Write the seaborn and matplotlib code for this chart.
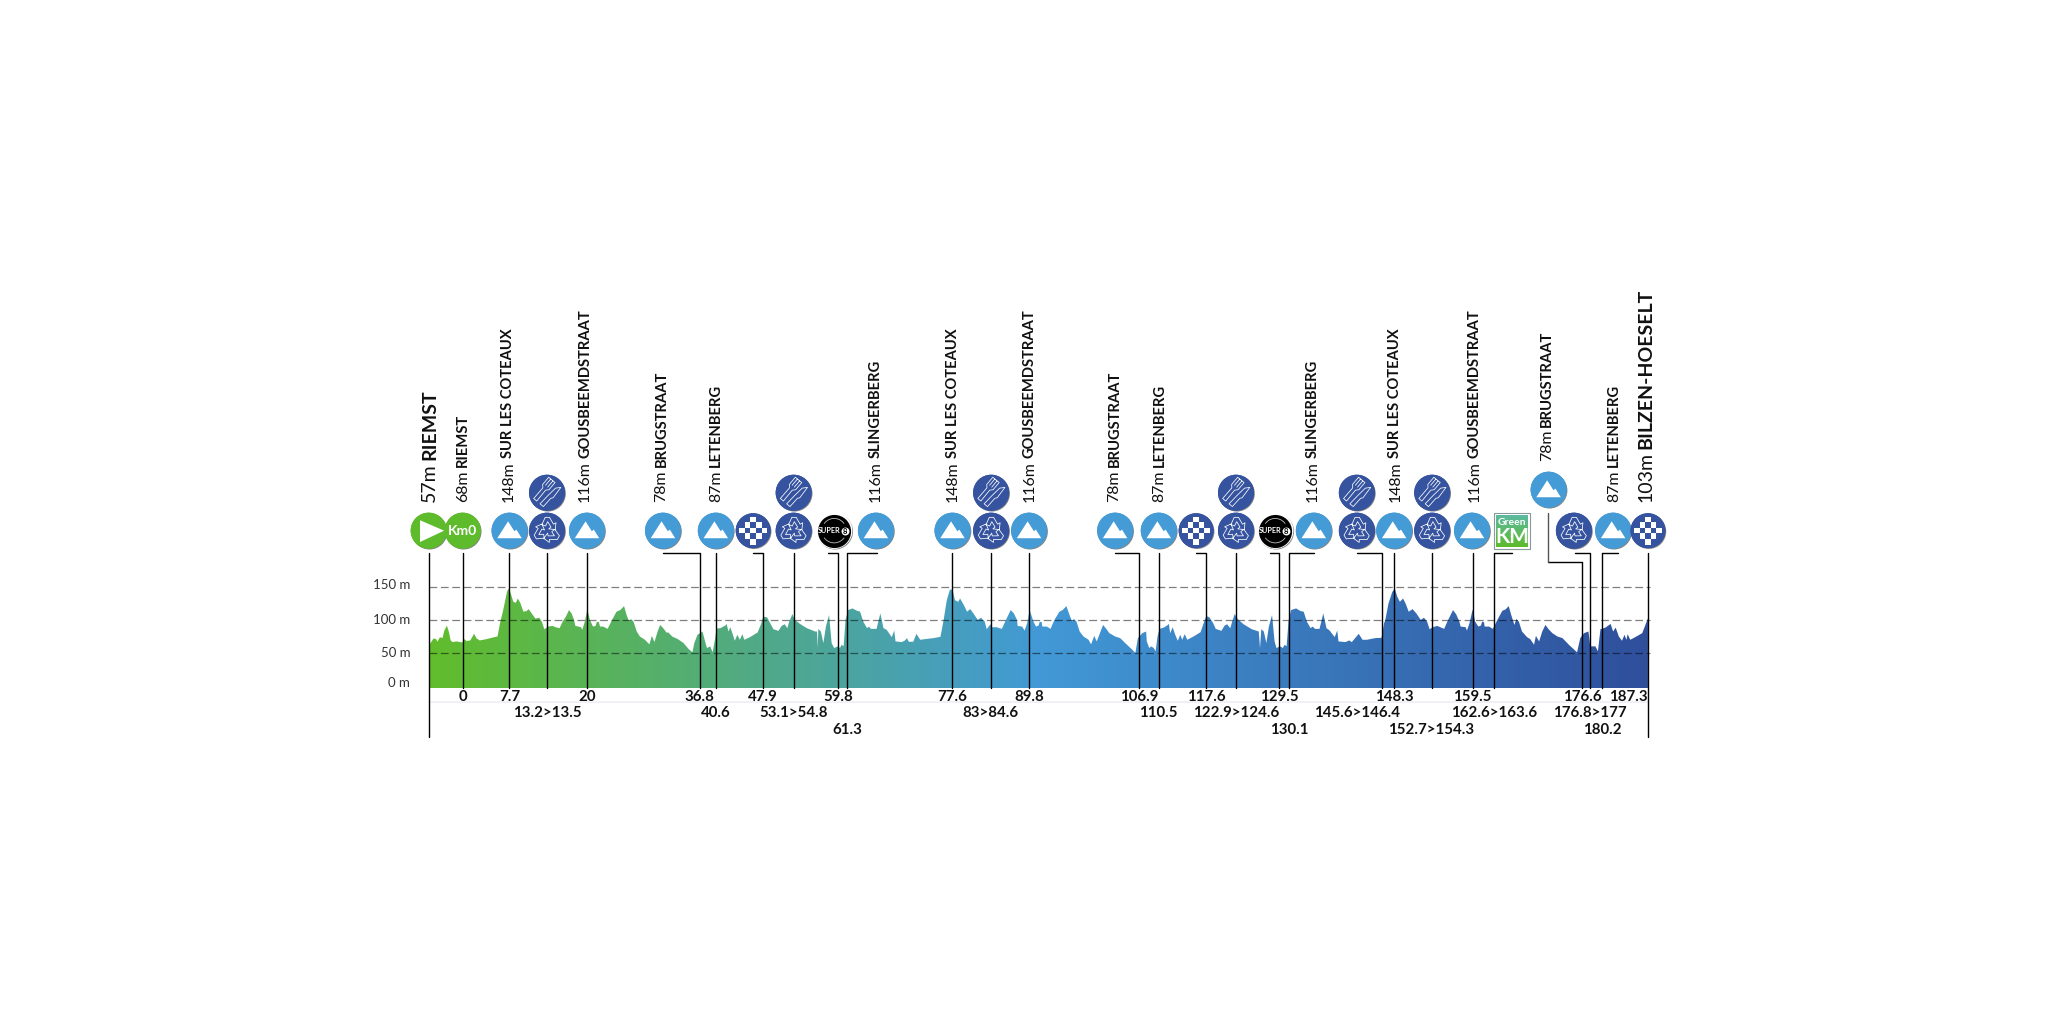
import numpy as np
import pandas as pd
import matplotlib
matplotlib.use("Agg")
import matplotlib.pyplot as plt
import seaborn as sns
from matplotlib.colors import LinearSegmentedColormap
from matplotlib.path import Path
from matplotlib.transforms import Affine2D
from matplotlib import patheffects as pe

# elevation profile, km from the official start and metres
profile_km = [
    -5.4, -5.1, -4.6, -4.2, -4.0, -3.6, -3.2, -2.9, -2.5, -2.2, -1.9, -1.6, -1.0, -0.1, 0.3, 0.6,
    1.2, 1.8, 2.2, 2.7, 3.8, 4.8, 5.5, 5.9, 6.4, 7.0, 7.2, 7.6, 8.0, 8.4, 8.7, 9.1, 9.6, 10.1,
    10.4, 10.9, 11.5, 12.1, 12.5, 12.9, 13.5, 14.2, 14.7, 15.3, 15.8, 16.3, 16.8, 17.2, 17.6, 17.8,
    18.3, 18.7, 18.9, 19.3, 19.7, 20.1, 20.6, 21.0, 21.2, 21.5, 21.7, 22.2, 22.9, 23.6, 24.3, 24.9,
    25.5, 25.9, 26.3, 26.6, 27.0, 27.5, 28.0, 28.8, 29.5, 29.9, 30.3, 30.8, 31.2, 31.7, 32.2,
    32.5, 33.1, 34.0, 34.9, 35.7, 36.3, 36.6, 37.1, 37.9, 38.3, 38.6, 39.1, 39.5, 39.9, 40.1, 40.7,
    41.5, 41.7, 42.0, 42.3, 42.7, 43.0, 43.4, 43.8, 44.2, 44.5, 45.4, 46.6, 47.1, 47.5, 48.1, 48.6,
    49.1, 49.9, 50.4, 50.9, 51.3, 51.6, 52.1, 52.5, 53.3, 54.4, 55.7, 56.0, 56.1, 56.2, 56.6, 57.0,
    57.4, 57.9, 58.3, 58.7, 59.3, 59.6, 59.9, 60.2, 60.5, 60.9, 61.6, 62.3, 62.8, 63.3, 63.9, 64.2,
    64.5, 65.4, 66.0, 66.5, 67.0, 67.8, 68.2, 68.4, 69.4, 69.9, 70.2, 70.5, 71.2, 71.7, 72.3, 73.1,
    74.4, 75.5, 76.0, 76.5, 77.0, 77.4, 77.8, 78.3, 78.6, 79.2, 79.7, 80.2, 80.7, 81.4, 81.9, 82.5,
    82.8, 83.4, 83.7, 84.4, 85.2, 85.8, 86.6, 87.1, 87.6, 87.7, 88.4, 88.8, 89.2, 89.6, 90.2, 90.6,
    91.0, 91.2, 91.5, 91.6, 92.3, 92.9, 93.5, 94.3, 94.8, 95.4, 95.9, 96.3, 96.6, 97.0, 97.5, 98.1,
    98.9, 99.3, 99.8, 100.2, 100.8, 101.2, 101.7, 102.2, 103.1, 103.9, 104.7, 105.8, 106.3, 106.7,
    107.4, 108.0, 108.1, 108.5, 108.8, 109.2, 109.5, 109.8, 110.1, 110.8, 111.3, 111.6, 111.8, 112.2,
    112.6, 113.0, 113.4, 113.7, 114.1, 114.5, 115.5, 116.6, 117.0, 117.5, 118.0, 118.6, 119.0, 119.9,
    120.4, 120.8, 121.3, 121.6, 122.0, 122.5, 123.4, 124.7, 125.8, 126.0, 126.2, 126.6, 127.0, 127.4,
    127.9, 128.3, 128.6, 129.2, 129.6, 129.9, 130.2, 130.5, 130.9, 131.7, 132.4, 132.9, 133.4, 134.0,
    134.3, 134.7, 135.4, 136.0, 136.5, 137.0, 137.8, 138.2, 138.4, 139.5, 140.1, 140.5, 141.6, 142.2,
    142.9, 144.2, 145.2, 145.6, 145.8, 146.3, 146.9, 147.3, 147.7, 148.1, 148.6, 149.0, 149.5, 150.1,
    150.7, 151.4, 151.9, 152.4, 152.8, 153.3, 154.0, 154.5, 155.1, 155.6, 156.5, 157.0, 157.5, 157.7,
    158.5, 158.7, 159.1, 159.6, 160.0, 160.5, 160.9, 161.1, 161.4, 161.5, 162.2, 162.8, 163.5, 164.3,
    164.8, 165.3, 165.7, 166.2, 166.5, 166.9, 167.4, 168.2, 168.7, 169.3, 169.6, 170.1, 170.6, 171.1,
    171.6, 172.2, 173.0, 173.8, 174.8, 176.1, 176.6, 177.2, 177.9, 178.2, 179.0, 179.4, 179.8, 180.6,
    181.4, 181.8, 182.2, 182.7, 183.2, 183.6, 183.9, 184.1, 184.5, 185.3, 186.4, 186.8, 187.3,
]
profile_m = [
    60.5, 65.5, 72.5, 71.5, 67.5, 74.5, 73, 84.5, 92, 83, 69.5, 67, 68, 66.5, 71.5, 68.5,
    69.5, 79.5, 72.5, 69.5, 71.5, 74, 75.5, 95.5, 115.5, 143, 148, 140.5, 128, 126.5, 133, 126.5, 113, 114,
    117, 110.5, 102.5, 104, 98, 86.5, 90.5, 91.5, 89.5, 88, 98, 105.5, 115.5, 110.5, 100.5, 91.5,
    90.5, 89.5, 85.5, 98, 116.5, 100.5, 90.5, 91.5, 97.5, 97.5, 90.5, 90.5, 87, 100.5, 113, 115.5,
    121.5, 108, 98, 102, 98, 83, 75.5, 70.5, 63.5, 76.5, 67, 83, 93, 88, 81.5,
    81.5, 75.5, 71.5, 65.5, 56.5, 51.5, 65.5, 78, 83, 68, 58, 60.5, 51.5, 73, 87.5, 88,
    92, 94.5, 83, 89.5, 78, 69, 78, 70.5, 79, 70.5, 74.5, 81.5, 93, 105.5, 104.5, 95.5,
    86.5, 84, 91.5, 94, 88, 98, 109.5, 100.5, 94.5, 88, 83, 83, 58, 87, 83, 65.5,
    90.5, 108, 65.5, 58, 60.5, 58, 63, 60.5, 100.5, 115.5, 118, 114.5, 113, 98, 88, 90.5,
    87, 87, 110.5, 88, 85.5, 74.5, 84.5, 68, 67, 69.5, 73, 67.5, 67.5, 79.5, 70.5, 71.5,
    73, 75, 100.5, 130.5, 146.5, 146.5, 130.5, 128, 133, 123, 113, 117, 110.5, 100.5, 104, 98,
    86.5, 94, 89.5, 89.5, 87, 99.5, 115.5, 110.5, 100.5, 91.5, 90.5, 84.5, 95.5, 115.5, 98, 90.5,
    92, 98, 97, 90.5, 90.5, 87, 100.5, 113, 115.5, 121.5, 108, 98, 102, 98, 83, 75.5,
    70.5, 63.5, 76.5, 68, 83, 93, 87, 80.5, 75.5, 73, 65.5, 55.5, 50.5, 73,
    80.5, 83, 68, 58, 60.5, 58, 53, 75.5, 87, 89, 92, 94.5, 80.5, 89.5,
    78, 69, 78, 70.5, 79, 70.5, 75.5, 82, 93, 106.5, 104.5, 95.5, 87, 84,
    92, 94, 88, 98, 109.5, 101.5, 94, 86.5, 83, 58, 86.5, 83, 65.5, 90.5,
    108, 68, 58, 60.5, 58, 63, 60.5, 98, 115.5, 118, 114, 113, 98, 88,
    90.5, 87, 87, 110.5, 88, 84.5, 74.5, 84.5, 68, 67, 69.5, 67, 79.5, 70.5,
    70.5, 73, 73.5, 95.5, 100.5, 125.5, 143, 148, 135.5, 128, 133, 125.5, 113, 117,
    110.5, 100.5, 104, 98, 86.5, 89.5, 91.5, 89.5, 87, 98, 115.5, 109, 98, 90.5,
    89.5, 84.5, 95.5, 116.5, 98, 90.5, 92, 98, 97, 90.5, 90.5, 87, 100.5, 114.5,
    116.5, 121.5, 108, 93, 102, 98, 83, 74.5, 71.5, 63, 76.5, 68, 83, 93,
    86.5, 80.5, 75.5, 73, 63, 51.5, 73, 80.5, 83, 60.5, 60.5, 53, 86.5, 89,
    94.5, 83, 89, 75.5, 69, 78, 70.5, 79, 70.5, 74.5, 80.5, 90.5, 103,
]

# y axis
grid_m = [50, 100, 150]
tick_labels = ["0 m", "50 m", "100 m", "150 m"]
tick_label_m = [5, 50.5, 100, 153]

# distance marks: where the line stands, its text, its text row, where it leads to
mark_km = [0, 7.37, 13.32, 19.6, 37.45, 39.98, 47.46, 52.3, 59.3, 60.73, 77.37, 83.44, 89.54, 106.83,
           109.98, 117.46, 122.2, 129.0, 130.6, 145.2, 147.2, 153.1, 159.6, 163.0, 176.9, 178.1, 180.1]
mark_text = ["0", "7.7", "13.2>13.5", "20", "36.8", "40.6", "47.9", "53.1>54.8", "59.8", "61.3", "77.6",
             "83>84.6", "89.8", "106.9", "110.5", "117.6", "122.9>124.6", "129.5", "130.1", "145.6>146.4",
             "148.3", "152.7>154.3", "159.5", "162.6>163.6", "176.6", "176.8>177", "180.2"]
mark_row = [0, 0, 1, 0, 0, 1, 0, 1, 0, 2, 0, 1, 0, 0, 1, 0, 1, 0, 2, 1, 0, 2, 0, 1, 0, 1, 2]
mark_to = [0, 7.37, 13.32, 19.6, 31.65, 39.98, 45.9, 52.3, 57.8, 65.4, 77.37, 83.44, 89.54, 103.1,
           109.98, 115.9, 122.2, 127.5, 134.5, 141.4, 147.2, 153.1, 159.6, 165.8, 171.5, 175.7, 182.5]
# this one text sits under its icon, not under its line
text_moved = {"145.6>146.4": 141.3}
start_km = -5.38
finish_km = 187.3

# climbs and places along the top
place_km = [-5.26, 0.1, 7.2, 19.35, 31.4, 40.05, 65.3, 77.45, 89.6, 103.0, 110.1, 134.35, 147.4, 159.95, 171.4, 181.9, 187.0]
place_alt = ["57m", "68m", "148m", "116m", "78m", "87m", "116m", "148m", "116m", "78m", "87m", "116m", "148m", "116m", "78m", "87m", "103m"]
place_name = ["RIEMST", "RIEMST", "SUR LES COTEAUX", "GOUSBEEMDSTRAAT", "BRUGSTRAAT", "LETENBERG", "SLINGERBERG",
              "SUR LES COTEAUX", "GOUSBEEMDSTRAAT", "BRUGSTRAAT", "LETENBERG", "SLINGERBERG", "SUR LES COTEAUX",
              "GOUSBEEMDSTRAAT", "BRUGSTRAAT", "LETENBERG", "BILZEN-HOESELT"]

# icon positions on the road
mountain_km = [7.4, 19.64, 31.65, 40.0, 65.3, 77.4, 89.5, 103.1, 110.0, 134.5, 147.2, 159.5, 181.8]
mountain_high_km = [171.6]
feed_km = [13.32, 52.3, 83.5, 122.2, 141.3, 153.2]
waste_km = [13.32, 52.3, 83.5, 122.2, 141.3, 153.2, 175.6]
sprint_km = [45.9, 115.9, 187.3]
super_km = [58.7, 128.4]
green_km = [165.8]

GREEN = "#5dbb2c"
SKY = "#449bd6"
NAVY = "#35539f"
INK = "#111111"
PX_KM = 6.328
PX_M = 0.66
ROW_LOW = 235.8
ROW_HIGH = 293.3
ROW_TOP = 297.9
LINE_TOP = 202
BASE = -2.6
TEXT_ROWS = [-15.8, -40.9, -66.2]
D = 36 * 0.72  # icon diameter in points


def glyph(parts):
    """Compound path from closed polygons and open strokes, in a unit circle."""
    verts, codes = [], []
    for pts, closed in parts:
        verts.extend(pts)
        codes.append(Path.MOVETO)
        codes.extend([Path.LINETO] * (len(pts) - 1))
        if closed:
            verts.append(pts[0])
            codes.append(Path.CLOSEPOLY)
    return Path(np.array(verts, float), codes)


def turn(pts, deg, dx=0, dy=0):
    return [tuple(p) for p in Affine2D().rotate_deg(deg).translate(dx, dy).transform(np.array(pts, float))]


def arc(r, a0, a1):
    return [(r * np.cos(np.radians(a)), r * np.sin(np.radians(a))) for a in np.linspace(a0, a1, 9)]


MOUNTAIN = glyph([([(-0.68, -0.42), (-0.08, 0.52), (0.27, -0.03), (0.38, 0.06), (0.68, -0.42)], True)])
PLAY = glyph([([(-0.48, 0.58), (-0.48, -0.63), (0.86, 0.0)], True)])
ARROW = [(-0.28, 0.34), (-0.1, 0.74), (0.14, 0.74), (0.36, 0.36), (0.5, 0.44), (0.46, 0.06), (0.1, 0.1),
         (0.22, 0.2), (0.04, 0.5), (-0.08, 0.26)]
RECYCLE = glyph([(ARROW, True), (turn(ARROW, 120), True), (turn(ARROW, 240), True)])
KNIFE = [(0.1, -0.72), (0.34, -0.72), (0.36, -0.1), (0.44, 0.0), (0.4, 0.72), (0.2, 0.5), (0.14, -0.1)]
FORK = [(-0.36, -0.72), (-0.14, -0.72), (-0.15, 0.06), (-0.02, 0.2), (-0.02, 0.72), (-0.48, 0.72), (-0.48, 0.2), (-0.35, 0.06)]
TINE_A = [(-0.33, 0.72), (-0.33, 0.25)]
TINE_B = [(-0.17, 0.72), (-0.17, 0.25)]
FOOD = glyph([(turn(KNIFE, -40), True), (turn(FORK, -40), True), (turn(TINE_A, -40), False), (turn(TINE_B, -40), False)])
CELL = 0.31
SQUARES = [([(i * CELL - CELL / 2, j * CELL - CELL / 2), (i * CELL + CELL / 2, j * CELL - CELL / 2),
             (i * CELL + CELL / 2, j * CELL + CELL / 2), (i * CELL - CELL / 2, j * CELL + CELL / 2)], True)
           for i in range(-2, 3) for j in range(-2, 3) if (i + j) % 2 == 0 and i * i + j * j < 8]
CHECKER = glyph(SQUARES)
RINGS = glyph([(arc(0.74, 35, 145), False), (arc(0.74, 215, 325), False)])


def stamp(x, y, path, size=D, face="white", edge="none", lw=0.0, z=8):
    """Put a unit-circle glyph on every x. matplotlib rescales by the largest coordinate."""
    scale = np.abs(path.vertices).max()
    ax.scatter(x, [y] * len(x), marker=path, s=(size * scale) ** 2, facecolors=face, edgecolors=edge,
               linewidths=lw, zorder=z)


def discs(x, y, color, size=D, z=6):
    shadow = pe.withSimplePatchShadow(offset=(0.6, -0.6), shadow_rgbFace="#666666", alpha=0.8)
    pts = sns.scatterplot(x=x, y=[y] * len(x), s=size ** 2, color=color, edgecolor="none", linewidth=0,
                          legend=False, zorder=z, ax=ax)
    pts.collections[-1].set_path_effects([shadow, pe.Normal()])


sns.set_theme(style="white")
plt.rcParams["font.family"] = ["Lato", "DejaVu Sans"]

fig = plt.figure(figsize=(20.48, 10.24), dpi=100)
ax = fig.add_axes([0, 0, 1, 1])

# gradient fill under the profile
ramp = LinearSegmentedColormap.from_list("road", ["#61bd2b", "#4299d6", "#2f4f9b"])
area = ax.fill_between(profile_km, BASE, profile_m, color="none", linewidth=0)
img = ax.imshow(np.linspace(0, 1, 512)[None, :], cmap=ramp, aspect="auto", zorder=2,
                extent=(start_km, finish_km, BASE, 160))
img.set_clip_path(area.get_paths()[0], ax.transData)

# height lines
for level in grid_m:
    ax.plot([start_km, finish_km + 0.4], [level, level], color="black", alpha=0.5, lw=0.9,
            dashes=(6.2, 2.9), zorder=3)
for text, y in zip(tick_labels, tick_label_m):
    ax.text(start_km - 2.9, y, text, ha="right", va="center", fontsize=9.5, color="#333333")

# leader lines, one unit per mark
rows = []
for i, (km, to) in enumerate(zip(mark_km, mark_to)):
    rows += [(i, to, LINE_TOP), (i, km, LINE_TOP), (i, km, BASE)]
rows += [(90, start_km, LINE_TOP), (90, start_km, -76.4), (91, finish_km, LINE_TOP), (91, finish_km, -76.4)]
lines = pd.DataFrame(rows, columns=["unit", "km", "m"])
# the last Brugstraat climb sits higher, so its leader bends lower down
lines.loc[lines["unit"] == 24, "m"] = [188.8, 188.8, BASE]
sns.lineplot(data=lines, x="km", y="m", units="unit", estimator=None, sort=False, color="black",
             linewidth=1.0, legend=False, zorder=4, ax=ax)
sns.lineplot(x=[mark_to[24], mark_to[24]], y=[188.8, 262.6], color="#555555", linewidth=1.0, zorder=4,
             estimator=None, sort=False, ax=ax)
ax.plot([start_km, finish_km], [-23.8, -23.8], color="#eeeef6", lw=1.2, zorder=1)

# distance labels under the road
for km, text, row in zip(mark_km, mark_text, mark_row):
    ax.text(text_moved.get(text, km), TEXT_ROWS[row], text, ha="center", va="center", fontsize=10.8,
            fontweight="bold", color=INK)
ax.text(finish_km - 0.1, TEXT_ROWS[0], "187.3", ha="right", va="center", fontsize=10.8, fontweight="bold", color=INK)

# vertical place names, height then name stacked on the same baseline
for km, alt, name in zip(place_km, place_alt, place_name):
    big = name == "RIEMST" and alt == "57m" or name == "BILZEN-HOESELT"
    size = 14 if big else 10.6
    y = 341.4 if km == 171.4 else 279.7
    first = ax.text(km, y, alt, rotation=90, ha="center", va="bottom", fontsize=size + (0 if big else 0.8), color=INK)
    ax.annotate(name, xy=(0.5, 1), xycoords=first, xytext=(0, 2), textcoords="offset points", rotation=90,
                ha="center", va="bottom", fontsize=size, fontweight="bold", color=INK)

# icons
discs([start_km], ROW_LOW, GREEN)
stamp([start_km], ROW_LOW, PLAY)
discs([0], ROW_LOW, GREEN)
ax.text(0, ROW_LOW, "Km0", color="white", ha="center", va="center", fontsize=10, fontweight="bold", zorder=9)
discs(mountain_km, ROW_LOW, SKY)
stamp(mountain_km, ROW_LOW, MOUNTAIN)
discs(mountain_high_km, ROW_TOP, SKY)
stamp(mountain_high_km, ROW_TOP, MOUNTAIN)
discs(waste_km, ROW_LOW, NAVY)
stamp(waste_km, ROW_LOW, RECYCLE, face="none", edge="white", lw=0.55)
discs(feed_km, ROW_HIGH, NAVY)
stamp(feed_km, ROW_HIGH, FOOD, face="none", edge="white", lw=0.55)
discs(sprint_km, ROW_LOW, NAVY, size=D * 0.97)
stamp(sprint_km, ROW_LOW, CHECKER)

discs(super_km, ROW_LOW, "white", size=D * 1.0)
ax.scatter(super_km, [ROW_LOW] * 2, s=(D * 0.92) ** 2, color="black", zorder=7, linewidths=0)
stamp(super_km, ROW_LOW, RINGS, size=D * 0.92, face="none", edge="#bbbbbb", lw=0.6, z=8)
for km in super_km:
    ax.text(km - 0.85, ROW_LOW, "SUPER", color="white", ha="center", va="center", fontsize=5.2, fontweight="bold", zorder=9)
    ax.scatter([km + 1.75], [ROW_LOW], s=(D * 0.22) ** 2, color="white", zorder=8, linewidths=0)
    ax.text(km + 1.75, ROW_LOW - 0.5, "8", color="black", ha="center", va="center", fontsize=5.5, fontweight="bold", zorder=9)

# green sprint badge
half_x, half_y = 18 / PX_KM, 18 / PX_M
for km in green_km:
    ax.scatter([km], [ROW_LOW], marker="s", s=(D * 1.0) ** 2, color="white", edgecolors="#8a9a9a", linewidths=0.8, zorder=6)
    badge = LinearSegmentedColormap.from_list("badge", ["#5bb9a0", "#5dbb2c"])
    ax.imshow(np.linspace(0, 1, 32)[:, None], cmap=badge, aspect="auto", zorder=7,
              extent=(km - half_x * 0.88, km + half_x * 0.88, ROW_LOW - half_y * 0.88, ROW_LOW + half_y * 0.88))
    ax.text(km, ROW_LOW + 12.5, "Green", color="white", ha="center", va="center", fontsize=7.5, fontweight="bold", zorder=9)
    ax.text(km, ROW_LOW - 9, "KM", color="white", ha="center", va="center", fontsize=15, fontweight="bold", zorder=9)

ax.set_xlim(-462.7 / PX_KM, (2048 - 462.7) / PX_KM)
ax.set_ylim((686.3 - 1024) / PX_M, 686.3 / PX_M)
ax.axis("off")
fig.savefig("out.png", dpi=100, facecolor="white")
